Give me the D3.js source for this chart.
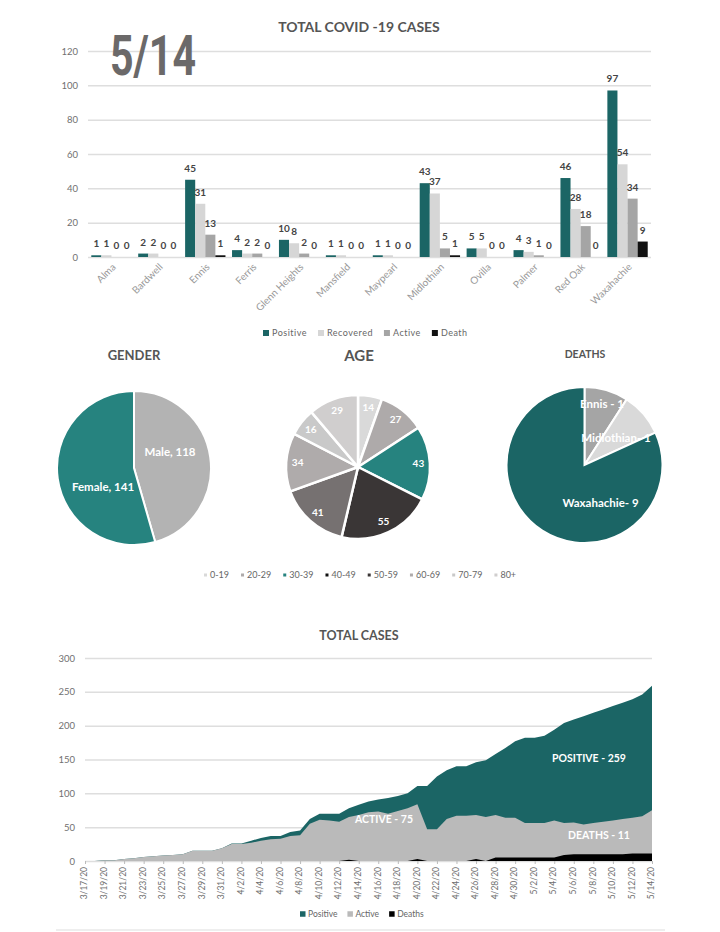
<!DOCTYPE html>
<html>
<head>
<meta charset="utf-8">
<script src="https://cdnjs.cloudflare.com/ajax/libs/d3/7.8.5/d3.min.js"></script>
<style>
  html, body { margin: 0; padding: 0; background: #fff; }
  svg { display: block; font-family: Lato, "Open Sans", sans-serif; }
  .domain { display: none; }
</style>
</head>
<body>
<svg id="chart" width="720" height="932"></svg>
<script>
// bar chart data
const towns = ["Alma", "Bardwell", "Ennis", "Ferris", "Glenn Heights", "Mansfield", "Maypearl", "Midlothian", "Ovilla", "Palmer", "Red Oak", "Waxahachie"];
const barSeries = ["Positive", "Recovered", "Active", "Death"];
const townPositive = [1, 2, 45, 4, 10, 1, 1, 43, 5, 4, 46, 97];
const townRecovered = [1, 2, 31, 2, 8, 1, 1, 37, 5, 3, 28, 54];
const townActive = [0, 0, 13, 2, 2, 0, 0, 5, 0, 1, 18, 34];
const townDeath = [0, 0, 1, 0, 0, 0, 0, 1, 0, 0, 0, 9];
const barTicks = [0, 20, 40, 60, 80, 100, 120];

// pies
const genderLabels = ["Male", "Female"];
const genderValues = [118, 141];
const ageLabels = ["0-19", "20-29", "30-39", "40-49", "50-59", "60-69", "70-79", "80+"];
const ageValues = [14, 27, 43, 55, 41, 34, 16, 29];
const deathLabels = ["Ennis - 1", "Midlothian- 1", "Waxahachie- 9"];
const deathValues = [1, 1, 9];

// timeline
const days = ["3/17/20","3/18/20","3/19/20","3/20/20","3/21/20","3/22/20","3/23/20","3/24/20","3/25/20","3/26/20","3/27/20","3/28/20","3/29/20","3/30/20","3/31/20",
  "4/1/20","4/2/20","4/3/20","4/4/20","4/5/20","4/6/20","4/7/20","4/8/20","4/9/20","4/10/20","4/11/20","4/12/20","4/13/20","4/14/20","4/15/20","4/16/20","4/17/20","4/18/20","4/19/20","4/20/20","4/21/20","4/22/20","4/23/20","4/24/20","4/25/20","4/26/20","4/27/20","4/28/20","4/29/20","4/30/20",
  "5/1/20","5/2/20","5/3/20","5/4/20","5/5/20","5/6/20","5/7/20","5/8/20","5/9/20","5/10/20","5/11/20","5/12/20","5/13/20","5/14/20"];
const dayPositive = [0,0,1,1,3,4,6,7,8,9,10,15,15,15,19,26,26,30,34,37,37,43,45,62,70,70,70,78,83,88,91,93,96,100,111,111,125,134,140,140,146,149,158,167,177,182,182,185,194,204,209,214,219,224,229,234,239,246,259];
const dayActive = [0,0,1,1,3,4,6,7,8,9,10,15,15,15,19,25,25,27,30,32,33,37,38,55,61,60,58,65,68,72,73,70,74,78,84,47,47,62,67,67,68,65,68,64,64,56,56,56,60,56,57,54,56,58,60,62,64,66,75];
const dayDeaths = [0,0,0,0,0,0,0,0,0,0,0,0,0,0,0,0,0,0,0,0,0,0,0,0,0,0,0,2,0,0,0,0,0,0,3,0,0,0,0,0,3,0,5,5,5,5,5,5,5,9,10,10,10,10,10,10,11,11,11];
const dayTicks = [0, 50, 100, 150, 200, 250, 300];

const TEAL = "#1b6565";
const TEAL2 = "#26837f";
const gridColor = "#dedede";
const tickColor = "#707070";

const svg = d3.select("#chart");

function title(text, x, y, size) {
  svg.append("text").attr("x", x).attr("y", y).attr("text-anchor", "middle")
    .attr("font-size", size).attr("font-weight", 700).attr("fill", "#555").text(text);
}

// swatches and labels laid out one after another, left to right
function legend(items, colors, x, y, opt) {
  let cx = x;
  items.forEach((name, i) => {
    svg.append("rect").attr("x", cx).attr("y", y - opt.box / 2).attr("width", opt.box).attr("height", opt.box).attr("fill", colors[i]);
    const t = svg.append("text").attr("x", cx + opt.box + opt.pad).attr("y", y + 3.2)
      .attr("font-size", opt.size).attr("letter-spacing", opt.spacing).attr("fill", "#666").text(name);
    cx += opt.box + opt.pad + t.node().getComputedTextLength() + opt.gap;
  });
}

// ---------- bars
const bar = { left: 88, right: 651, top: 51, bottom: 257 };
const x0 = d3.scaleBand().domain(towns).range([bar.left, bar.right]).paddingInner(0.14).paddingOuter(0.07);
const x1 = d3.scaleBand().domain(barSeries).range([0, x0.bandwidth()]);
const yBar = d3.scaleLinear().domain([0, 120]).range([bar.bottom, bar.top]);
const barColors = [TEAL, "#d6d6d6", "#a5a5a5", "#111"];
const barValues = [townPositive, townRecovered, townActive, townDeath];

const yAxisBar = d3.axisLeft(yBar).tickValues(barTicks).tickSize(-(bar.right - bar.left)).tickPadding(10);
const gy = svg.append("g").attr("transform", `translate(${bar.left},0)`).call(yAxisBar);
gy.selectAll("line").attr("stroke", gridColor).attr("stroke-width", 1.5);
gy.selectAll("text").attr("font-size", 9.5).attr("font-family", "Lato").attr("fill", tickColor);

barSeries.forEach((s, j) => {
  const g = svg.append("g");
  g.selectAll("rect").data(towns).enter().append("rect")
    .attr("x", d => x0(d) + x1(s))
    .attr("y", (d, i) => yBar(barValues[j][i]))
    .attr("width", x1.bandwidth())
    .attr("height", (d, i) => bar.bottom - yBar(barValues[j][i]))
    .attr("fill", barColors[j]);
  g.selectAll("text").data(towns).enter().append("text")
    .attr("x", d => x0(d) + x1(s) + x1.bandwidth() / 2)
    .attr("y", (d, i) => yBar(barValues[j][i]) - 8)
    .attr("text-anchor", "middle").attr("font-size", 10).attr("font-weight", 700).attr("fill", "#444")
    .text((d, i) => barValues[j][i]);
});

const gx = svg.append("g").attr("transform", `translate(0,${bar.bottom})`).call(d3.axisBottom(x0).tickSize(0));
gx.selectAll("text")
  .attr("font-size", 10).attr("font-family", "Lato").attr("fill", "#999")
  .attr("text-anchor", "end").attr("dx", "-4").attr("dy", "8")
  .attr("transform", "rotate(-45)");

title("TOTAL COVID -19 CASES", 359, 32, 14);
legend(barSeries, barColors, 263, 333, { box: 6, pad: 3, size: 9, spacing: 0.5, gap: 11 });

svg.append("text").attr("x", 110).attr("y", 75)
  .attr("font-family", "Roboto").attr("font-size", 56).attr("font-weight", 700)
  .attr("textLength", 86).attr("lengthAdjust", "spacingAndGlyphs").attr("fill", "#6b6969").text("5/14");

// ---------- pies
function pie(values, colors, cx, cy, r, labels, place, size, stroke) {
  const arcs = d3.pie().sort(null)(values);
  const arc = d3.arc().innerRadius(0).outerRadius(r);
  const g = svg.append("g").attr("transform", `translate(${cx},${cy})`);
  g.selectAll("path").data(arcs).enter().append("path")
    .attr("d", arc).attr("fill", (d, i) => colors[i]).attr("stroke", "#fff").attr("stroke-width", stroke);
  g.selectAll("text").data(arcs).enter().append("text")
    .attr("transform", (d, i) => `translate(${place(d, i)})`)
    .attr("text-anchor", "middle").attr("dy", "0.35em")
    .attr("font-weight", 700).attr("font-size", size).attr("fill", "#fff")
    .text((d, i) => labels[i]);
}

title("GENDER", 134, 360, 13);
// the big pies had their labels dragged by hand in the original
const genderLabelAt = [[36, -16], [-31, 19]];
pie(genderValues, ["#b3b3b3", TEAL2], 134, 468, 77, genderLabels.map((n, i) => `${n}, ${genderValues[i]}`), (d, i) => genderLabelAt[i], 11.5, 2);

title("AGE", 359, 361, 15);
const ageColors = ["#d9d9d9", "#aeaaaa", TEAL2, "#3a3636", "#767171", "#afabab", "#c9c9c9", "#d0cece"];
const ageLabelArc = d3.arc().innerRadius(60.5).outerRadius(60.5);
pie(ageValues, ageColors, 358, 467, 72, ageValues, d => ageLabelArc.centroid(d), 10, 2.5);
legend(ageLabels, ["#d9d9d9", "#aeaaaa", TEAL2, "#111", "#3a3636", "#afabab", "#c9c9c9", "#d0cece"], 204, 575, { box: 3, pad: 3, size: 9, spacing: 0, gap: 12 });

title("DEATHS", 585, 358, 10.5);
const deathLabelAt = [[17.5, -61], [31.5, -27], [16, 38]];
pie(deathValues, ["#a5a5a5", "#d9d9d9", TEAL], 584.5, 465, 78, deathLabels, (d, i) => deathLabelAt[i], 11.5, 2);

// ---------- timeline
const area = { left: 85, right: 652, top: 658, bottom: 861 };
const xDay = d3.scalePoint().domain(days).range([area.left, area.right]);
const yDay = d3.scaleLinear().domain([0, 300]).range([area.bottom, area.top]);

const gyDay = svg.append("g").attr("transform", `translate(${area.left},0)`)
  .call(d3.axisLeft(yDay).tickValues(dayTicks).tickSize(-(area.right - area.left)).tickPadding(10));
gyDay.selectAll("line").attr("stroke", gridColor).attr("stroke-width", 1.5);
gyDay.selectAll("text").attr("font-size", 9.5).attr("font-family", "Lato").attr("fill", tickColor);

const areaSeries = [[dayPositive, TEAL], [dayActive, "#bababa"], [dayDeaths, "#000"]];
areaSeries.forEach(([vals, color]) => {
  const gen = d3.area().x((d, i) => xDay(days[i])).y0(area.bottom).y1(d => yDay(d));
  svg.append("path").datum(vals).attr("d", gen).attr("fill", color);
});

const gxDay = svg.append("g").attr("transform", `translate(0,${area.bottom})`)
  .call(d3.axisBottom(xDay).tickValues(days.filter((d, i) => i % 2 === 0)).tickSize(3));
gxDay.selectAll("line").attr("stroke", "#bbb");
gxDay.selectAll("text")
  .attr("font-size", 8.5).attr("font-family", "Lato").attr("fill", "#707070")
  .attr("text-anchor", "end").attr("dx", "-6").attr("dy", "-0.5em")
  .attr("transform", "rotate(-90)");

const areaNotes = [["POSITIVE - 259", 589, 762], ["ACTIVE - 75", 384, 823], ["DEATHS - 11", 599, 839]];
svg.append("g").selectAll("text").data(areaNotes).enter().append("text")
  .attr("x", d => d[1]).attr("y", d => d[2]).attr("text-anchor", "middle")
  .attr("font-size", 10.5).attr("font-weight", 700).attr("fill", "#fff").text(d => d[0]);

title("TOTAL CASES", 359, 640, 12.5);
legend(["Positive", "Active", "Deaths"], [TEAL, "#bababa", "#000"], 300, 914, { box: 5.5, pad: 2.5, size: 8.5, spacing: 0, gap: 10 });

// strip of the next panel showing at the bottom edge
svg.append("line").attr("x1", 56).attr("x2", 665).attr("y1", 930).attr("y2", 930).attr("stroke", "#ddd");
</script>
</body>
</html>
